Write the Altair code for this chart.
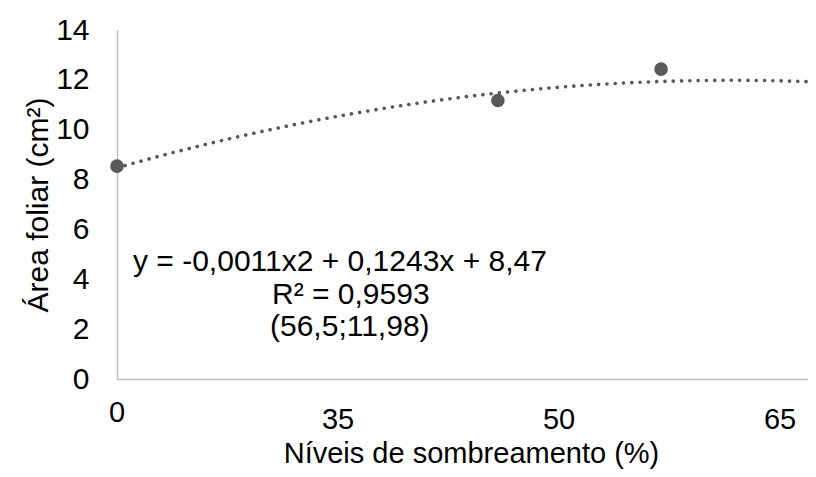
import altair as alt
import pandas as pd

# ---- data ----
shade_levels = [0, 35, 50]
leaf_area = [8.54, 11.17, 12.43]
tick_labels = ["0", "35", "50", "65"]
trend_coef = [-0.0011, 0.1243, 8.47]  # a, b, c of the printed quadratic trendline
eq_lines = ["y = -0,0011x2 + 0,1243x + 8,47", "R² = 0,9593", "(56,5;11,98)"]
y_ticks = [0, 2, 4, 6, 8, 10, 12, 14]

FONT = "Liberation Sans"
GREY = "#595959"
AXIS_GREY = "#bfbfbf"
FS = 30
FSX = 29
W, H = 691, 349
XMAX = 63.5

pts = pd.DataFrame({"x": shade_levels, "y": leaf_area})
lab_df = pd.DataFrame({"label": tick_labels})

xs = alt.Scale(domain=[0, XMAX], nice=False, zero=True)
ys = alt.Scale(domain=[0, 14], nice=False)

x_axis = alt.Axis(labels=False, ticks=False, grid=False, domainColor=AXIS_GREY,
                  domainWidth=1.5, title="Níveis de sombreamento (%)",
                  titleFont=FONT, titleFontSize=FSX, titleFontWeight="normal",
                  titleColor="black", titleX=354, titleY=83, titleAlign="center",
                  titleBaseline="alphabetic")
y_axis = alt.Axis(values=y_ticks, ticks=False, grid=False, domainColor=AXIS_GREY,
                  domainWidth=1.5, labelFont=FONT, labelFontSize=FS, labelColor="black",
                  labelPadding=28, labelFlush=False, labelOverlap=False,
                  title="Área foliar (cm²)", titleFont=FONT, titleFontSize=FS,
                  titleFontWeight="normal", titleColor="black", titleAngle=-90,
                  titleX=-70, titleY=H / 2, titleAlign="center",
                  titleBaseline="alphabetic")

a, b, c = trend_coef
trend = alt.Chart(alt.sequence(0, XMAX + 0.01, 0.25, as_="x")).transform_calculate(
    y=f"{a}*datum.x*datum.x + {b}*datum.x + {c}"
).mark_line(strokeDash=[0.1, 8.2], strokeCap="round", strokeWidth=3.6, color=GREY).encode(
    x=alt.X("x:Q", scale=xs, axis=x_axis),
    y=alt.Y("y:Q", scale=ys, axis=y_axis),
)

points = alt.Chart(pts).mark_circle(size=185, color=GREY, opacity=1).encode(
    x=alt.X("x:Q", scale=xs, axis=x_axis),
    y=alt.Y("y:Q", scale=ys, axis=y_axis),
)

main = alt.layer(trend, points)

xl = alt.X("label:N", sort=tick_labels,
           scale=alt.Scale(type="point", domain=tick_labels, range=[0, 663], padding=0),
           axis=None)

lab_zero = alt.Chart(lab_df).transform_filter("datum.label == '0'").mark_text(
    font=FONT, fontSize=FSX, color="black", baseline="middle", align="center"
).encode(x=xl, y=alt.value(383), text="label:N")

lab_rest = alt.Chart(lab_df).transform_filter("datum.label != '0'").mark_text(
    font=FONT, fontSize=FSX, color="black", baseline="middle", align="center"
).encode(x=xl, y=alt.value(390), text="label:N")

eq_pos = [(16, 232), (155, 265), (153, 297)]
eq_layers = []
for line, (px, py) in zip(eq_lines, eq_pos):
    eq_layers.append(
        alt.Chart(alt.Data(values=[{"t": line}])).mark_text(
            font=FONT, fontSize=FS, color="black", baseline="middle", align="left"
        ).encode(x=alt.value(px), y=alt.value(py), text="t:N")
    )

chart = alt.layer(main, lab_zero, lab_rest, *eq_layers).resolve_scale(
    x="independent"
).properties(
    width=W, height=H,
    autosize=alt.AutoSizeParams(type="none"),
    padding={"left": 109, "top": 22, "right": 0, "bottom": 90},
    background="white",
).configure_view(stroke=None)

chart.save("out.html", embed_options={"renderer": "svg", "actions": False})
